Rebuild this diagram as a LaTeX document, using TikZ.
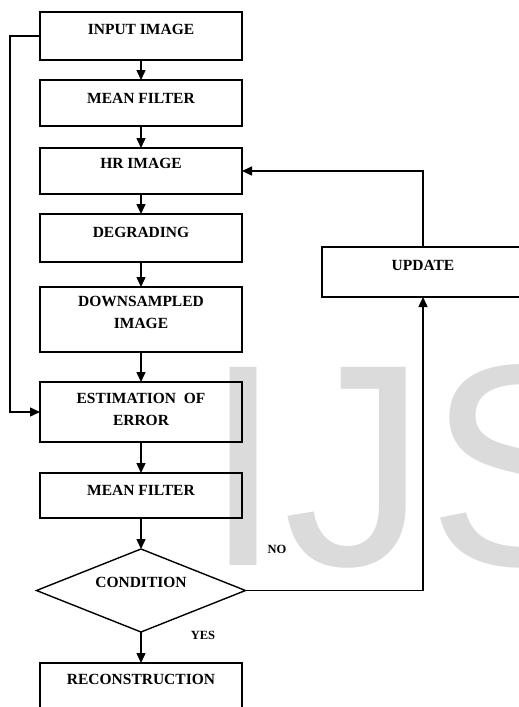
\documentclass[tikz,border=0pt]{standalone}
\usepackage{fontspec}
\setmainfont{Liberation Serif}
\newfontfamily\wmfont{Liberation Sans}
\usetikzlibrary{arrows.meta,shapes.geometric}
\tikzset{
  box/.style={draw, line width=1.4pt, minimum width=202pt, inner sep=0pt, outer sep=0pt, anchor=north},
  boxtext/.style={font=\bfseries\fontsize{15.5}{22}\selectfont, align=center, inner sep=0pt, anchor=center},
  branchlbl/.style={font=\bfseries\fontsize{12.5}{14}\selectfont, inner sep=0pt},
  flow/.style={line width=1.4pt, -{Triangle[length=10pt,width=9pt]}}
}
\begin{document}
\begin{tikzpicture}[x=1pt,y=-1pt]
\path[use as bounding box, clip] (0,0) rectangle (519,707);
\fill[white] (0,0) rectangle (519,707);
% watermark lettering in the background
\node[anchor=base west, inner sep=0pt, text=black!14, font=\wmfont\fontsize{288}{288}\selectfont] (wm) at (203,565) {IJS};

% main column of process boxes
\node[box, minimum height=48pt] (inp) at (141,12) {};
\node[boxtext] (inpT) at (141,29) {INPUT IMAGE};
\node[box, minimum height=46pt] (mf1) at (141,80) {};
\node[boxtext] (mf1T) at (141,98) {MEAN FILTER};
\node[box, minimum height=46pt] (hr) at (141,148) {};
\node[boxtext] (hrT) at (141,163) {HR IMAGE};
\node[box, minimum height=48pt] (deg) at (141,214) {};
\node[boxtext] (degT) at (141,232) {DEGRADING};
\node[box, minimum height=65pt] (ds) at (141,287) {};
\node[boxtext, anchor=north] (dsT) at (141,296) {DOWNSAMPLED\\IMAGE};
\node[box, minimum height=60pt] (est) at (141,382) {};
\node[boxtext, anchor=north] (estT) at (141,393) {ESTIMATION~~OF\\ERROR};
\node[box, minimum height=45pt] (mf2) at (141,473) {};
\node[boxtext] (mf2T) at (141,490) {MEAN FILTER};
\node[draw, shape=diamond, line width=1.4pt, minimum width=209pt, minimum height=83pt, inner sep=0pt, outer sep=0pt] (cond) at (141,590.5) {};
\node[boxtext] (condT) at (141,582) {CONDITION};
\node[box, minimum height=70pt] (rec) at (141,663) {};
\node[boxtext] (recT) at (141,679) {RECONSTRUCTION};

% side box
\node[draw, line width=1.4pt, minimum width=210pt, minimum height=50pt, inner sep=0pt, outer sep=0pt, anchor=north west] (upd) at (322,247) {};
\node[boxtext] (updT) at (423,265) {UPDATE};

% branch labels
\node[branchlbl] (no) at (277,549) {NO};
\node[branchlbl] (yes) at (203,635) {YES};

% straight flow
\draw[flow] (inp.south) -- (mf1.north);
\draw[flow] (mf1.south) -- (hr.north);
\draw[flow] (hr.south) -- (deg.north);
\draw[flow] (deg.south) -- (ds.north);
\draw[flow] (ds.south) -- (est.north);
\draw[flow] (est.south) -- (mf2.north);
\draw[flow] (mf2.south) -- (cond.north);
\draw[flow] (cond.south) -- (rec.north);

% bypass from the input to the error estimation
\coordinate (byTop) at (10,36);
\coordinate (byBot) at (10,412);
\draw[flow] (inp.west) -- (byTop) -- (byBot) -- (est.west);

% NO branch to the update, and feedback to the HR image
\coordinate (noCorner) at (423,590.5);
\draw[flow] (cond.east) -- (noCorner) -- (upd.south -| noCorner);
\coordinate (fbCorner) at (423,171);
\draw[flow] (upd.north -| fbCorner) -- (fbCorner) -- (hr.east);
\end{tikzpicture}
\end{document}
